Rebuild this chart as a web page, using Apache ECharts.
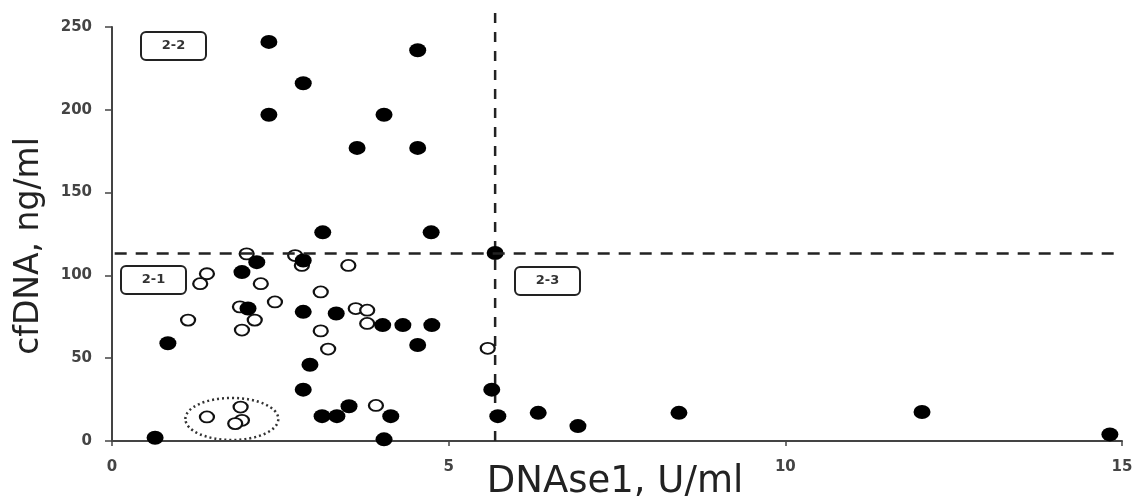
<!DOCTYPE html>
<html>
<head>
<meta charset="utf-8">
<script src="https://cdn.jsdelivr.net/npm/echarts@6/dist/echarts.min.js"></script>
<style>
html,body{margin:0;padding:0;background:#fff;}
#c{width:1139px;height:503px;}
</style>
</head>
<body>
<div id="c"></div>
<script>
// Filled (black) points: DNAse1 (U/ml), cfDNA (ng/ml)
const filledX = [0.64,0.83,2.33,2.33,2.84,4.04,3.64,4.54,4.54,3.13,4.74,5.69,1.93,2.15,2.02,2.84,2.84,3.33,4.02,4.32,4.75,4.54,2.94,2.84,3.12,3.34,3.52,4.14,4.04,5.64,5.73,6.33,6.92,8.42,12.03,14.82];
const filledY = [2,59,241,197,216,197,177,236,177,126,126,113.5,102,108,80,109,78,77,70,70,70,58,46,31,15,15,21,15,1,31,15,17,9,17,17.5,4];
// Open (white) points
const openX = [2.0,2.72,2.82,3.51,1.41,1.31,2.21,2.42,1.90,2.12,1.93,1.13,3.10,3.10,3.21,3.62,3.79,3.79,3.92,5.58,1.41,1.91,1.93,1.83];
const openY = [113,112,106,106,101,95,95,84,81,73,67,73,90,66.5,55.5,80,79,71,21.5,56,14.5,20.5,12.5,10.5];
// Threshold lines
const xThreshold = 5.69;
const yThreshold = 113.5;
const vLineTop = 261.5;
// Axis ticks
const xTicks = [0,5,10,15];
const yTicks = [0,50,100,150,200,250];
// Region labels
const regionLabels = ['2-2','2-1','2-3'];
// Dotted ellipse around cluster (data units)
const clusterCenter = [1.78, 13.3];
const clusterRadius = [0.69, 12.7];

const chart = echarts.init(document.getElementById('c'));
const filled = filledX.map((x,i)=>[x, filledY[i]]);
const open = openX.map((x,i)=>[x, openY[i]]);
const axisCol = '#444';
const lblStyle = {color:'#444', fontWeight:'bold', fontSize:15, fontFamily:'DejaVu Sans'};

function box(x, y, txt){
  return {type:'group', left:x, top:y, children:[
    {type:'rect', shape:{x:0,y:0,width:65,height:28,r:5}, style:{fill:'#fff', stroke:'#222', lineWidth:2}},
    {type:'text', style:{text:txt, x:32.5, y:14, align:'center', verticalAlign:'middle', font:'bold 13px "DejaVu Sans"', fill:'#333'}}
  ]};
}

chart.setOption({
  animation:false,
  grid:{left:112, right:17, top:27, bottom:62},
  xAxis:{type:'value', min:xTicks[0], max:xTicks[xTicks.length-1], interval:5,
    axisLine:{lineStyle:{color:axisCol, width:2}},
    axisTick:{show:true, length:5, lineStyle:{color:axisCol, width:1.5}},
    axisLabel:{...lblStyle, margin:19},
    splitLine:{show:false}},
  yAxis:{type:'value', min:yTicks[0], max:yTicks[yTicks.length-1], interval:50,
    axisLine:{show:true, lineStyle:{color:axisCol, width:2}},
    axisTick:{show:true, length:7, lineStyle:{color:axisCol, width:1.5}},
    axisLabel:{...lblStyle, margin:20},
    splitLine:{show:false}},
  series:[
    {type:'scatter', data:[], silent:true,
      markLine:{symbol:'none', silent:true, animation:false, label:{show:false},
        data:[
          [{coord:[xTicks[0]+0.04, yThreshold]}, {coord:[14.95, yThreshold]}]
        ],
        lineStyle:{color:'#222', width:2.5, type:[12,9]}}},
    {type:'scatter', data:open, symbol:'circle', symbolSize:[14,11],
      itemStyle:{color:'#fff', borderColor:'#111', borderWidth:2, opacity:1}},
    {type:'scatter', data:filled, symbol:'circle', symbolSize:[17,14],
      itemStyle:{color:'#000', opacity:1}}
  ]
});

const c = chart.convertToPixel({gridIndex:0}, clusterCenter);
const r = chart.convertToPixel({gridIndex:0}, [clusterCenter[0]+clusterRadius[0], clusterCenter[1]+clusterRadius[1]]);
const v0 = chart.convertToPixel({gridIndex:0}, [xThreshold, 0]);
const v1 = chart.convertToPixel({gridIndex:0}, [xThreshold, vLineTop]);
chart.setOption({graphic:[
  {type:'line', z:1, shape:{x1:v0[0], y1:v0[1], x2:v1[0], y2:v1[1]},
    style:{stroke:'#222', lineWidth:2.5, lineDash:[10,9]}},
  box(140, 31, regionLabels[0]),
  box(120, 265, regionLabels[1]),
  box(514, 266, regionLabels[2]),
  {type:'ellipse', shape:{cx:c[0], cy:c[1], rx:r[0]-c[0], ry:c[1]-r[1]},
    style:{fill:null, stroke:'#333', lineWidth:2.5, lineDash:[2,3]}},
  {type:'text', x:615, y:482, style:{text:'DNAse1, U/ml', align:'center', verticalAlign:'middle',
    font:'37px "DejaVu Sans"', fill:'#222'}},
  {type:'text', x:29, y:246, rotation:Math.PI/2, style:{text:'cfDNA, ng/ml', align:'center', verticalAlign:'middle',
    font:'33px "DejaVu Sans"', fill:'#222'}}
]});
</script>
</body>
</html>
